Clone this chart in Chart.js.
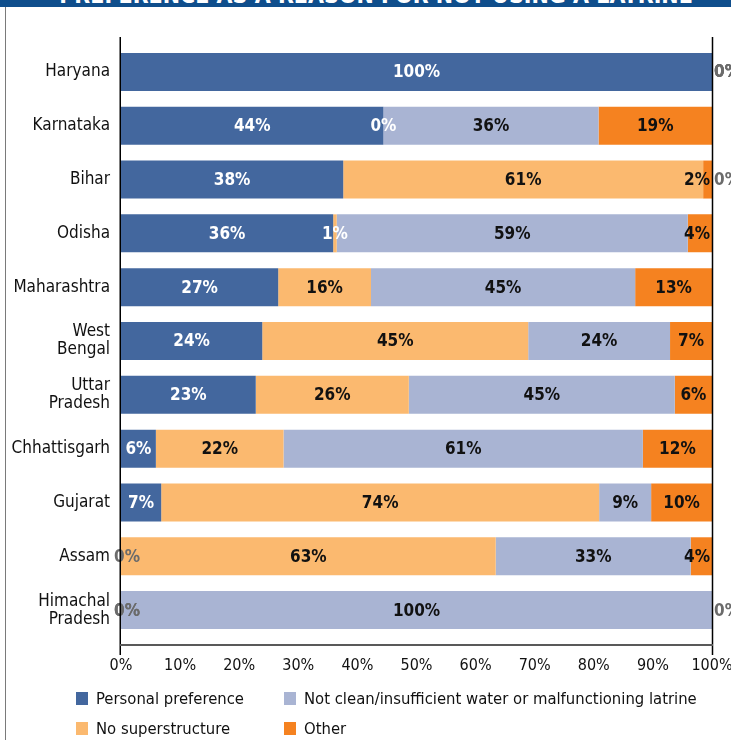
<!DOCTYPE html>
<html>
<head>
<meta charset="utf-8">
<script src="https://cdn.jsdelivr.net/npm/chart.js@4/dist/chart.umd.min.js"></script>
<style>
  body { margin:0; width:731px; height:740px; overflow:hidden; background:#fff; position:relative; }
  #frame { position:absolute; left:5px; top:0; width:726px; height:740px; border-left:1px solid #7a7a7a; }
  #titlebar { position:absolute; left:0; top:0; width:731px; height:7px; background:#0f4e8c; overflow:hidden; }
  #titlebar div { position:absolute; left:0; top:-16px; width:752px; text-align:center; color:#fff;
    font:bold 23px/22px "DejaVu Sans Condensed", "Liberation Sans Narrow", sans-serif; white-space:nowrap; }
  #wrap { position:absolute; left:0; top:0; width:731px; height:740px; }
  #legend { position:absolute; left:76px; top:683px; display:grid; grid-template-columns:208px 420px;
    grid-auto-rows:30px; font:16.5px "DejaVu Sans Condensed", "Liberation Sans Narrow", sans-serif; color:#111; }
  #legend .item { display:flex; align-items:center; white-space:nowrap; }
  #legend .box { width:12px; height:13px; margin-right:8px; }
</style>
</head>
<body>
<div id="frame"></div>
<div id="titlebar"><div>PREFERENCE AS A REASON FOR NOT USING A LATRINE</div></div>
<div id="wrap"><canvas id="chart" width="731" height="740"></canvas></div>
<div id="legend"></div>
<script>
// states, top to bottom
const states = ['Haryana', 'Karnataka', 'Bihar', 'Odisha', 'Maharashtra', ['West', 'Bengal'],
  ['Uttar', 'Pradesh'], 'Chhattisgarh', 'Gujarat', 'Assam', ['Himachal', 'Pradesh']];

// share of households (%) per reason
const personalPreference = [100, 44.4, 37.6, 35.9, 26.6, 23.9, 22.8, 5.9, 6.8, 0, 0];
const noSuperstructure   = [0, 0, 60.9, 0.6, 15.7, 45.0, 25.9, 21.6, 74.1, 63.4, 0];
const notClean           = [0, 36.4, 0, 59.4, 44.7, 24.0, 45.0, 60.8, 8.8, 33.0, 100];
const other              = [0, 19.2, 1.5, 4.1, 13.0, 7.1, 6.3, 11.7, 10.3, 3.6, 0];

const tickValues = [0, 10, 20, 30, 40, 50, 60, 70, 80, 90, 100];

const FONT = '"DejaVu Sans Condensed", "Liberation Sans Narrow", sans-serif';

// labels inside the segments, Excel style
const segmentLabels = {
  id: 'segmentLabels',
  afterDatasetsDraw(chart) {
    const ctx = chart.ctx;
    const xs = chart.scales.x;
    const sets = chart.data.datasets;
    ctx.save();
    ctx.font = 'bold 17px ' + FONT;
    ctx.textAlign = 'center';
    ctx.textBaseline = 'middle';
    chart.data.labels.forEach((_, i) => {
      // segment edges for this row
      let cum = 0;
      const segs = sets.map((ds) => {
        const s = xs.getPixelForValue(cum);
        cum += ds.data[i];
        return { s: s, e: xs.getPixelForValue(cum), v: ds.data[i] };
      });
      const y = chart.getDatasetMeta(0).data[i].y;
      segs.forEach((seg, d) => {
        const text = Math.round(seg.v) + '%';
        const w = ctx.measureText(text).width;
        let cx;
        if (seg.v === 0) {
          cx = seg.s;
          if (cx - w / 2 < xs.left) cx = xs.left + w / 2 - 7;
          else if (cx + w / 2 > xs.right) cx = xs.right + 2 + w / 2;
        } else {
          cx = (seg.s + seg.e) / 2;
          if (cx + w / 2 > xs.right - 2) cx = xs.right - 2 - w / 2;
          if (cx - w / 2 < xs.left + 2) cx = xs.left + 2 + w / 2;
        }
        // colour from what sits under the label
        const probe = cx - 3;
        const under = segs.findIndex((q) => q.v > 0 && probe >= q.s && probe < q.e);
        if (under === 0) ctx.fillStyle = '#ffffff';
        else if (seg.v === 0) ctx.fillStyle = '#6b6b6b';
        else ctx.fillStyle = '#111111';
        ctx.fillText(text, cx, y + 1);
      });
    });
    ctx.restore();
  }
};

// axis frame: black sides with end ticks, grey base line
const axisFrame = {
  id: 'axisFrame',
  afterDraw(chart) {
    const a = chart.chartArea;
    const ctx = chart.ctx;
    ctx.save();
    ctx.strokeStyle = '#000';
    ctx.lineWidth = 1.5;
    ctx.beginPath();
    ctx.moveTo(a.left - 0.75, a.top - 8); ctx.lineTo(a.left - 0.75, a.bottom + 18);
    ctx.moveTo(a.right + 0.5, a.top - 8); ctx.lineTo(a.right + 0.5, a.bottom + 18);
    ctx.stroke();
    ctx.strokeStyle = '#595959';
    ctx.lineWidth = 2;
    ctx.beginPath();
    ctx.moveTo(a.left - 1, a.bottom + 8); ctx.lineTo(a.right + 1, a.bottom + 8);
    ctx.stroke();
    ctx.restore();
  }
};

const chart = new Chart(document.getElementById('chart'), {
  type: 'bar',
  data: {
    labels: states,
    datasets: [
      { label: 'Personal preference', data: personalPreference, backgroundColor: '#43679e' },
      { label: 'No superstructure', data: noSuperstructure, backgroundColor: '#fbb96f' },
      { label: 'Not clean/insufficient water or malfunctioning latrine', data: notClean, backgroundColor: '#a9b4d3' },
      { label: 'Other', data: other, backgroundColor: '#f58220' }
    ]
  },
  options: {
    indexAxis: 'y',
    responsive: false,
    animation: false,
    devicePixelRatio: 1,
    layout: { padding: { top: 45, right: 19, left: 0, bottom: 0 } },
    datasets: { bar: { barPercentage: 0.706, categoryPercentage: 1 } },
    scales: {
      x: {
        stacked: true,
        min: 0, max: 100,
        afterBuildTicks: (s) => { s.ticks = tickValues.map((v) => ({ value: v })); },
        afterFit: (s) => { s.height = 103; s.paddingLeft = 0; s.paddingRight = 0; },
        grid: { display: false, drawTicks: false },
        border: { display: false },
        ticks: { padding: 19, color: '#111', font: { family: FONT, size: 16 }, callback: (v) => v + '%' }
      },
      y: {
        stacked: true,
        afterFit: (s) => { s.width = 121; s.paddingTop = 0; s.paddingBottom = 0; },
        grid: { display: false, drawTicks: false },
        border: { display: false },
        ticks: { padding: 11, color: '#111', font: { family: FONT, size: 17, lineHeight: 1.06 } }
      }
    },
    plugins: {
      legend: { display: false },
      tooltip: { enabled: false }
    }
  },
  plugins: [segmentLabels, axisFrame]
});

// two-column legend like the original: preference, not clean / no superstructure, other
const legendOrder = [0, 2, 1, 3];
document.getElementById('legend').innerHTML = legendOrder.map((d) => {
  const ds = chart.data.datasets[d];
  return '<div class="item"><span class="box" style="background:' + ds.backgroundColor + '"></span>' + ds.label + '</div>';
}).join('');
</script>
</body>
</html>
